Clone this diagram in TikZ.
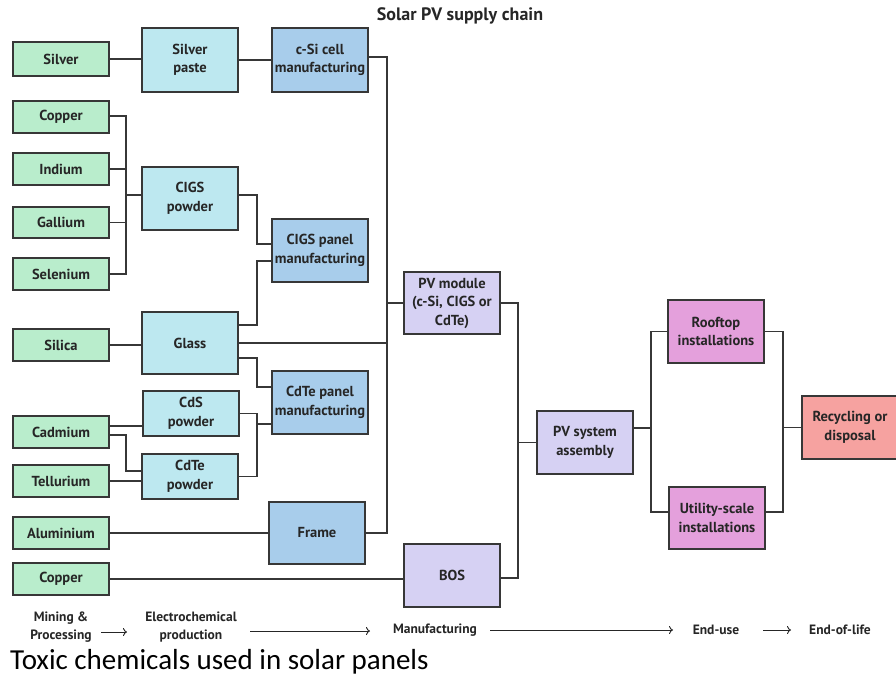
\documentclass[tikz,border=0pt]{standalone}
\usepackage{fontspec}
\setmainfont{PT Sans}
\newfontfamily\capfont{Carlito}
\usetikzlibrary{arrows.meta}
\definecolor{cgreen}{RGB}{185,237,204}
\definecolor{clblue}{RGB}{189,232,240}
\definecolor{cblue}{RGB}{168,205,235}
\definecolor{clav}{RGB}{214,209,243}
\definecolor{cpink}{RGB}{228,160,220}
\definecolor{csalmon}{RGB}{246,162,160}
\definecolor{cline}{RGB}{55,55,55}
\tikzset{
  box/.style={draw=cline, line width=1.3pt, rectangle, inner sep=0pt, align=center,
    font=\fontsize{14.5}{18.5}\selectfont\bfseries, text=black!85},
  conn/.style={draw=cline, line width=1.1pt},
  stage/.style={font=\fontsize{13.5}{18}\selectfont\bfseries, align=center, text=black!85},
  flow/.style={draw=black!85, line width=0.9pt, -{To[length=4pt,width=8pt]}}
}
\newcommand{\bx}[7]{\node[box, fill=#6, minimum width={(#4-#2)*1pt}, minimum height={(#5-#3)*1pt}]
  (#1) at ({(#2+#4)/2},{(#3+#5)/2}) {#7};}
\begin{document}
\begin{tikzpicture}[x=1pt,y=-1pt]
\clip (0,0) rectangle (896,681);
\fill[white] (0,0) rectangle (896,681);
% boxes
\bx{silver}{13}{42}{109}{76}{cgreen}{Silver}
\bx{spaste}{142}{28}{238}{92}{clblue}{Silver\\paste}
\bx{csi}{272}{28}{368}{92}{cblue}{c-Si cell\\manufacturing}
\bx{copper}{13}{101}{109}{133}{cgreen}{Copper}
\bx{indium}{13}{153}{109}{185}{cgreen}{Indium}
\bx{gallium}{13}{207}{109}{238}{cgreen}{Gallium}
\bx{selenium}{13}{258}{109}{290}{cgreen}{Selenium}
\bx{cigsp}{142}{167}{238}{230}{clblue}{CIGS\\powder}
\bx{cigsm}{272}{219}{368}{282}{cblue}{CIGS panel\\manufacturing}
\bx{silica}{13}{329}{109}{361}{cgreen}{Silica}
\bx{glass}{142}{312}{238}{374}{clblue}{Glass}
\bx{cdtem}{272}{371}{368}{434}{cblue}{CdTe panel\\manufacturing}
\bx{cds}{143}{391}{239}{436}{clblue}{CdS\\powder}
\bx{cdtep}{142}{454}{238}{499}{clblue}{CdTe\\powder}
\bx{cadmium}{13}{416}{109}{448}{cgreen}{Cadmium}
\bx{tellurium}{13}{465}{109}{497}{cgreen}{Tellurium}
\bx{aluminium}{13}{517}{109}{549}{cgreen}{Aluminium}
\bx{copperb}{13}{563}{109}{595}{cgreen}{Copper}
\bx{frame}{269}{502}{365}{564}{cblue}{Frame}
\bx{pvm}{404}{272}{500}{334}{clav}{PV module\\(c-Si, CIGS or\\CdTe)}
\bx{bos}{404}{544}{500}{607}{clav}{BOS}
\bx{pvsys}{537}{411}{633}{474}{clav}{PV system\\assembly}
\bx{roof}{668}{300}{764}{363}{cpink}{Rooftop\\installations}
\bx{util}{669}{487}{765}{549}{cpink}{Utility-scale\\installations}
\bx{recyc}{802}{396}{898}{459}{csalmon}{Recycling or\\disposal}
% bus coordinates
\coordinate (ba) at (126,0);
\coordinate (bb) at (257,0);
\coordinate (bc) at (387,0);
\coordinate (bd) at (518,0);
\coordinate (be) at (651,0);
\coordinate (bf) at (783,0);
% port coordinates
\coordinate (copperO) at ([yshift=1pt]copper.east);
\coordinate (cigspI) at ([yshift=3.5pt]cigsp.west);
\coordinate (cigspO) at ([yshift=3.5pt]cigsp.east);
\coordinate (cigsmI1) at ([yshift=6.5pt]cigsm.west);
\coordinate (cigsmI2) at ([yshift=-10.5pt]cigsm.west);
\coordinate (glassO1) at ([yshift=18pt]glass.east);
\coordinate (glassO3) at ([yshift=-15pt]glass.east);
\coordinate (cdtemI1) at ([yshift=15.5pt]cdtem.west);
\coordinate (cdtemI2) at ([yshift=-21.5pt]cdtem.west);
\coordinate (cadO1) at ([yshift=6pt]cadmium.east);
\coordinate (cadO2) at ([yshift=-3pt]cadmium.east);
\coordinate (cdtepI) at ([yshift=5.5pt]cdtep.west);
\coordinate (csiO) at ([yshift=3pt]csi.east);
\coordinate (bosO) at ([yshift=-2.5pt]bos.east);
\coordinate (pvsysO) at ([yshift=14.5pt]pvsys.east);
\coordinate (utilI) at ([yshift=6pt]util.west);
\coordinate (utilO) at ([yshift=6pt]util.east);
% connectors
\draw[conn] (silver.east) -- (silver.east -| spaste.west);
\draw[conn] (spaste.east) -- (spaste.east -| csi.west);
\draw[conn] (copperO) -| (ba |- selenium.east) -- (selenium.east);
\draw[conn] (indium.east) -- (indium.east -| ba);
\draw[conn] (gallium.east) -- (gallium.east -| ba);
\draw[conn] (cigspI) -- (cigspI -| ba);
\draw[conn] (cigspO) -| (bb |- cigsmI1) -- (cigsmI1);
\draw[conn] (glassO1) -| (bb |- cigsmI2) -- (cigsmI2);
\draw[conn] (glassO3) -| (bb |- cdtemI1) -- (cdtemI1);
\draw[conn] (cds.east) -| (bb |- cdtep.east) -- (cdtep.east);
\draw[conn] (cdtemI2) -- (cdtemI2 -| bb);
\draw[conn] (silica.east) -- (silica.east -| glass.west);
\draw[conn] (cadO1) -- (cadO1 -| cds.west);
\draw[conn] (cadO2) -| (ba |- cdtepI) -- (cdtepI);
\draw[conn] (tellurium.east) -- (tellurium.east -| cdtep.west);
\draw[conn] (aluminium.east) -- (aluminium.east -| frame.west);
\draw[conn] (csiO) -| (bc |- frame.east) -- (frame.east);
\draw[conn] (glass.east) -- (glass.east -| bc);
\draw[conn] (pvm.west) -- (pvm.west -| bc);
\draw[conn] (copperb.east) -- (copperb.east -| bos.west);
\draw[conn] (pvm.east) -| (bd |- bosO) -- (bosO);
\draw[conn] (pvsys.west) -- (pvsys.west -| bd);
\draw[conn] (pvsysO) -- (pvsysO -| be);
\draw[conn] (roof.west) -| (be |- utilI) -- (utilI);
\draw[conn] (roof.east) -| (bf |- utilO) -- (utilO);
\draw[conn] (recyc.west) -- (recyc.west -| bf);
% title
\node[font=\fontsize{18}{21}\selectfont\bfseries, text=black!85] (title) at (460,16) {Solar PV supply chain};
% stages
\node[stage] (s1) at (61,627) {Mining \&\\Processing};
\node[stage] (s2) at (191,627) {Electrochemical\\production};
\node[stage] (s3) at (435,630) {Manufacturing};
\node[stage] (s4) at (716,630) {End-use};
\node[stage] (s5) at (840,630) {End-of-life};
\coordinate (a1s) at (101,632);
\coordinate (a1e) at (127,632);
\coordinate (a2s) at (250,631);
\coordinate (a2e) at (370,631);
\coordinate (a3s) at (490,630);
\coordinate (a3e) at (673,630);
\coordinate (a4s) at (763,630);
\coordinate (a4e) at (791,630);
\draw[flow] (a1s) -- (a1e);
\draw[flow] (a2s) -- (a2e);
\draw[flow] (a3s) -- (a3e);
\draw[flow] (a4s) -- (a4e);
% caption
\node[anchor=base west, font=\capfont\fontsize{29}{33}\selectfont, inner sep=0pt] (cap) at (10,669) {Toxic chemicals used in solar panels};
\end{tikzpicture}
\end{document}
